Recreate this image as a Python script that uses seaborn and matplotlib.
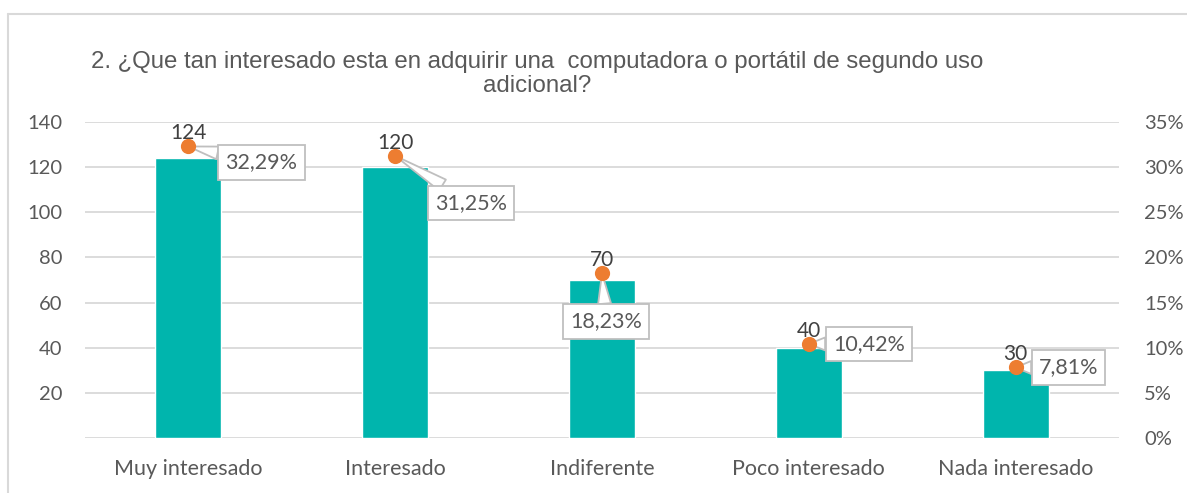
import matplotlib
matplotlib.use("Agg")
import matplotlib.pyplot as plt
from matplotlib.lines import Line2D
import seaborn as sns
import pandas as pd

categories = ["Muy interesado", "Interesado", "Indiferente", "Poco interesado", "Nada interesado"]
counts = [124, 120, 70, 40, 30]
percents = [0.3229, 0.3125, 0.1823, 0.1042, 0.0781]
pct_labels = ["32,29%", "31,25%", "18,23%", "10,42%", "7,81%"]
left_ticks = [20, 40, 60, 80, 100, 120, 140]
right_ticks = [0, 0.05, 0.10, 0.15, 0.20, 0.25, 0.30, 0.35]
right_tick_labels = ["0%", "5%", "10%", "15%", "20%", "25%", "30%", "35%"]
title = "2. ¿Que tan interesado esta en adquirir una  computadora o portátil de segundo uso\nadicional?"

# label offsets in pixels (layout only)
box_offsets = [(73, -16), (76, -47), (4, -48), (60, 0), (53, 0)]

df = pd.DataFrame({"cat": categories, "n": counts, "pct": percents})

sns.set_theme(style="white")
plt.rcParams["font.family"] = ["Lato", "DejaVu Sans"]

W, H = 1187, 493
fig = plt.figure(figsize=(W / 100, H / 100), dpi=100)
ax = fig.add_axes([85 / W, 1 - 438 / H, (1119 - 85) / W, (438 - 122) / H])

TEAL = "#00B5AD"
ORANGE = "#ED7D31"
GRID = "#D9D9D9"
TXT = "#595959"

sns.barplot(data=df, x="cat", y="n", order=categories, color=TEAL, width=0.32,
            saturation=1, ax=ax, zorder=2)
ax.set_xlim(-0.5, 4.5)
ax.set_ylim(0, 140)
ax.set_yticks(left_ticks)
ax.set_yticklabels([str(t) for t in left_ticks])
ax.yaxis.grid(True, color=GRID, linewidth=1.3, zorder=0)
ax.set_axisbelow(True)
ax.axhline(0, color=GRID, linewidth=1.3, zorder=1)
for s in ax.spines.values():
    s.set_visible(False)
ax.set_xlabel("")
ax.set_ylabel("")
ax.tick_params(axis="y", length=0, colors=TXT, labelsize=14.5, pad=16.5)
ax.tick_params(axis="x", length=0, colors=TXT, labelsize=15.5, pad=15)

ax2 = ax.twinx()
sns.scatterplot(data=df, x="cat", y="pct", color=ORANGE, s=120, edgecolor=ORANGE,
                linewidth=0, ax=ax2, zorder=6, legend=False)
ax2.set_xlim(-0.5, 4.5)
ax2.set_ylim(0, 0.35)
ax2.set_yticks(right_ticks)
ax2.set_yticklabels(right_tick_labels)
for s in ax2.spines.values():
    s.set_visible(False)
ax2.set_ylabel("")
ax2.tick_params(axis="y", length=0, colors=TXT, labelsize=14.5, pad=18)

for i, (c, p, lab) in enumerate(zip(counts, percents, pct_labels)):
    ax2.annotate(str(c), xy=(i, p), xytext=(0, 13), textcoords="offset pixels",
                 ha="center", va="center", fontsize=15, color="#404040", zorder=7)
    dx, dy = box_offsets[i]
    ax2.annotate(lab, xy=(i, p), xytext=(dx, dy), textcoords="offset pixels",
                 ha="center", va="center", fontsize=15.5, color=TXT, zorder=4,
                 bbox=dict(boxstyle="square,pad=0.33", fc="white", ec="#BFBFBF", lw=1.3),
                 arrowprops=dict(arrowstyle="wedge,tail_width=0.6,shrink_factor=0.5",
                                 fc="white", ec="#BFBFBF", lw=1.3,
                                 shrinkA=0, shrinkB=0))

fig.text(537 / W, 1 - 74 / H, title, ha="center", va="center", multialignment="center",
         fontsize=17.3, color=TXT, family=["Liberation Sans", "DejaVu Sans"], linespacing=1.12)

# chart area border (left and top visible)
fig.add_artist(Line2D([8 / W, 1.0], [1 - 13.5 / H, 1 - 13.5 / H], color=GRID, lw=1.5,
                      transform=fig.transFigure))
fig.add_artist(Line2D([8 / W, 8 / W], [0, 1 - 13.5 / H], color=GRID, lw=1.5,
                      transform=fig.transFigure))

fig.savefig("out.png", dpi=100)
